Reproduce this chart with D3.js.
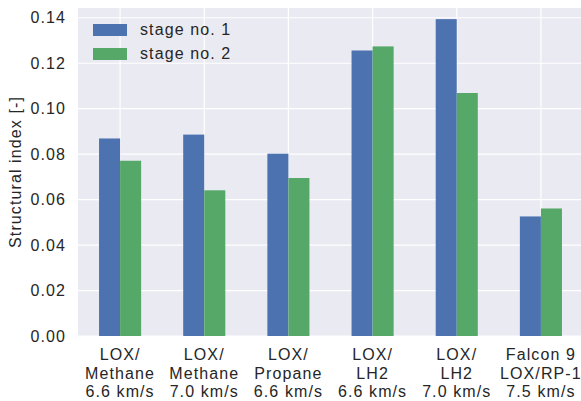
<!DOCTYPE html>
<html>
<head>
<meta charset="utf-8">
<script src="https://cdn.jsdelivr.net/npm/d3@7"></script>
<style>
  body { margin: 0; background: #fff; }
  text { font-family: "Liberation Sans", Arial, sans-serif; fill: #262626; }
</style>
</head>
<body>
<div id="chart-container"></div>
<script>
// Data
const categories = [
  ["LOX/", "Methane", "6.6 km/s"],
  ["LOX/", "Methane", "7.0 km/s"],
  ["LOX/", "Propane", "6.6 km/s"],
  ["LOX/", "LH2", "6.6 km/s"],
  ["LOX/", "LH2", "7.0 km/s"],
  ["Falcon 9", "LOX/RP-1", "7.5 km/s"]
];
const stage1 = [0.0869, 0.0886, 0.0802, 0.1256, 0.1394, 0.0526];
const stage2 = [0.0771, 0.0641, 0.0695, 0.1274, 0.1069, 0.0561];
const seriesNames = ["stage no. 1", "stage no. 2"];
const colors = ["#4C72B0", "#55A868"];
const yTicks = [0, 0.02, 0.04, 0.06, 0.08, 0.10, 0.12, 0.14];

const margin = { top: 8, right: 0, bottom: 65, left: 78 };
const W = 581, H = 401;
const width = 505;
const height = H - margin.top - margin.bottom;

const svg = d3.select("#chart-container")
  .append("svg")
  .attr("width", W)
  .attr("height", H);

const g = svg.append("g")
  .attr("transform", `translate(${margin.left},${margin.top})`);

// x is a linear scale over category index, like matplotlib
const x = d3.scaleLinear()
  .domain([-0.5, 5.5])
  .range([0, width]);

const y = d3.scaleLinear()
  .domain([0, 0.1443])
  .range([height, 0]);

// Background
g.append("rect")
  .attr("width", W - margin.left)
  .attr("height", height)
  .attr("fill", "#EAEAF2");

// Grid
g.selectAll(".ygrid")
  .data(yTicks)
  .join("line")
  .attr("x1", 0)
  .attr("x2", W - margin.left)
  .attr("y1", d => y(d))
  .attr("y2", d => y(d))
  .attr("stroke", "#fff")
  .attr("stroke-width", 1.2);

g.selectAll(".xgrid")
  .data(d3.range(categories.length))
  .join("line")
  .attr("x1", d => x(d))
  .attr("x2", d => x(d))
  .attr("y1", 0)
  .attr("y2", height)
  .attr("stroke", "#fff")
  .attr("stroke-width", 1.2);

// Bars
const barW = 0.25;
[stage1, stage2].forEach((vals, s) => {
  g.selectAll(".bar" + s)
    .data(vals)
    .join("rect")
    .attr("x", (d, i) => x(i + (s === 0 ? -barW : 0)))
    .attr("y", d => y(d))
    .attr("width", x(barW) - x(0))
    .attr("height", d => y(0) - y(d))
    .attr("fill", colors[s]);
});

// Y axis
g.append("g")
  .call(d3.axisLeft(y)
    .tickValues(yTicks)
    .tickFormat(d3.format(".2f"))
    .tickSize(0)
    .tickPadding(12))
  .call(a => a.select(".domain").remove())
  .selectAll("text")
  .style("font-size", "16px")
  .style("letter-spacing", "1.1px")
  .style("font-family", "'Liberation Sans', Arial, sans-serif")
  .attr("fill", "#262626");

// X labels (three lines each)
const xl = g.selectAll(".xlab")
  .data(categories)
  .join("text")
  .attr("text-anchor", "middle")
  .style("font-size", "16px")
  .style("letter-spacing", "1.1px")
  .attr("transform", (d, i) => `translate(${x(i)},${height + 24})`);
xl.selectAll("tspan")
  .data(d => d)
  .join("tspan")
  .attr("x", 0)
  .attr("y", (d, j) => j * 18.5)
  .text(d => d);

// Y label
svg.append("text")
  .attr("transform", `translate(21,${margin.top + height / 2}) rotate(-90)`)
  .attr("text-anchor", "middle")
  .style("font-size", "16px")
  .style("letter-spacing", "1.1px")
  .text("Structural index [-]");

// Legend
const legend = g.append("g")
  .attr("transform", "translate(15,16)");
seriesNames.forEach((name, i) => {
  legend.append("rect")
    .attr("x", 0)
    .attr("y", i * 24)
    .attr("width", 34)
    .attr("height", 12)
    .attr("fill", colors[i]);
  legend.append("text")
    .attr("x", 47)
    .attr("y", i * 24 + 11)
    .style("font-size", "16px")
    .style("letter-spacing", "1.1px")
    .text(name);
});
</script>
</body>
</html>
